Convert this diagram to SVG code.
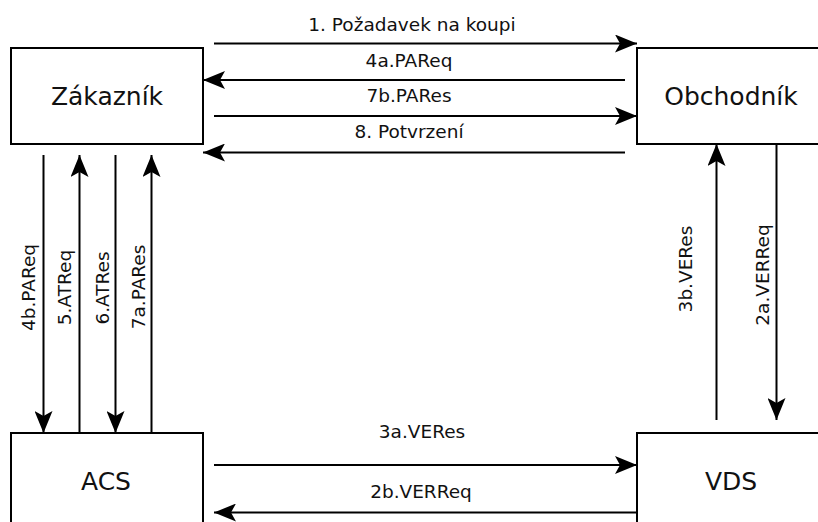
<svg xmlns="http://www.w3.org/2000/svg" width="818" height="522" viewBox="0 0 818 522">
<defs>
<marker id="arr" viewBox="0 0 22 18" refX="22" refY="9" markerWidth="22" markerHeight="18" orient="auto" markerUnits="userSpaceOnUse">
<path d="M0,0 L22,9 L0,18 L5,9 z" fill="#000"/>
</marker>
<style>
.box{fill:#fff;stroke:#000;stroke-width:2}
.node{font-family:"DejaVu Sans",Verdana,sans-serif;font-size:25px;fill:#111;text-anchor:middle}
.lbl{font-family:"DejaVu Sans",Verdana,sans-serif;font-size:18.5px;fill:#111;text-anchor:middle}
.ln{stroke:#000;stroke-width:2;fill:none}
.a{marker-end:url(#arr)}
</style>
</defs>
<rect width="818" height="522" fill="#fff"/>
<g id="zakaznik"><rect class="box" x="11" y="48" width="192" height="96"/><text class="node" x="107" y="105">Zákazník</text></g>
<g id="obchodnik"><rect class="box" x="637" y="48" width="192" height="96"/><text class="node" x="731" y="105">Obchodník</text></g>
<g id="acs"><rect class="box" x="11" y="433" width="192" height="96"/><text class="node" x="106" y="490">ACS</text></g>
<g id="vds"><rect class="box" x="637" y="433" width="192" height="96"/><text class="node" x="731" y="490">VDS</text></g>
<g id="connectors">
<line class="ln a" x1="214" y1="43.5" x2="637" y2="43.5"/>
<line class="ln a" x1="625" y1="80" x2="203" y2="80"/>
<line class="ln a" x1="214" y1="116" x2="637" y2="116"/>
<line class="ln a" x1="625" y1="152.5" x2="203" y2="152.5"/>
<line class="ln a" x1="43.5" y1="155" x2="43.5" y2="433"/>
<line class="ln a" x1="79.5" y1="433" x2="79.5" y2="155"/>
<line class="ln a" x1="115.5" y1="155" x2="115.5" y2="433"/>
<line class="ln a" x1="151.5" y1="433" x2="151.5" y2="155"/>
<line class="ln a" x1="716.5" y1="420" x2="716.5" y2="144"/>
<line class="ln a" x1="776.5" y1="144" x2="776.5" y2="420"/>
<line class="ln a" x1="214" y1="465" x2="637" y2="465"/>
<line class="ln a" x1="637" y1="512.5" x2="214" y2="512.5"/>
<text class="lbl" x="412" y="31">1. Požadavek na koupi</text>
<text class="lbl" x="409" y="67">4a.PAReq</text>
<text class="lbl" x="409" y="102">7b.PARes</text>
<text class="lbl" x="409" y="138">8. Potvrzení</text>
<text class="lbl" x="422" y="438">3a.VERes</text>
<text class="lbl" x="421" y="498">2b.VERReq</text>
<text class="lbl" transform="translate(35,287.5) rotate(-90)">4b.PAReq</text>
<text class="lbl" transform="translate(70.5,287.5) rotate(-90)">5.ATReq</text>
<text class="lbl" transform="translate(108.5,288) rotate(-90)">6.ATRes</text>
<text class="lbl" transform="translate(144.5,287) rotate(-90)">7a.PARes</text>
<text class="lbl" transform="translate(691.5,269) rotate(-90)">3b.VERes</text>
<text class="lbl" transform="translate(768.5,275) rotate(-90)">2a.VERReq</text>
</g>
</svg>
